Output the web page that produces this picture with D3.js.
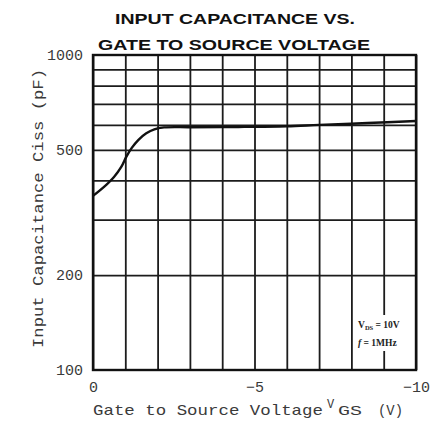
<!DOCTYPE html>
<html>
  <head>
    <script type="text/javascript" src="https://cdnjs.cloudflare.com/ajax/libs/d3/7.8.5/d3.min.js"></script>
    <style type="text/css">

html, body {
  margin: 0;
  padding: 0;
  background: #fff;
}

.grid line {
  stroke: #1c1c1c;
  stroke-width: 1.8px;
}

.grid path {
  display: none;
}

.ticklabels text {
  font-family: "Liberation Mono", monospace;
  font-size: 15px;
  fill: #3a3a3a;
}

    </style>
  </head>
  <body>
    <svg id="chart" width="445" height="439"></svg>
    <script type="text/javascript">

// values
var vgs  = [0, -0.35, -0.65, -0.88, -1.03, -1.2, -1.4, -1.65, -1.9, -2.2, -3, -4.5, -6, -7, -8.5, -10];
var ciss = [357, 382, 410, 442, 475, 507, 537, 564, 581, 589, 590, 591, 594, 600, 608, 617];

var xTicks = [0, -5, -10];
var xTickLabels = ["0", "\u22125", "\u221210"];
var yTicks = [100, 200, 500, 1000];
var yTickLabels = ["100", "200", "500", "1000"];
var xGrid = d3.range(0, -11, -1);
var yGrid = [200, 300, 400, 500, 600, 700, 800, 900];

var svg = d3.select("#chart");

// plot box (window.top is reserved, so no "top" here)
var pLeft = 93, pRight = 416, pTop = 55, pBottom = 370;

var x = d3.scaleLinear().domain([0, -10]).range([pLeft, pRight]);
var y = d3.scaleLog().domain([100, 1000]).range([pBottom, pTop]);

// grid lines
svg.append("g")
    .attr("class", "grid")
    .attr("transform", "translate(0," + pBottom + ")")
    .call(d3.axisBottom(x).tickValues(xGrid).tickSize(-(pBottom - pTop)).tickFormat(""));

svg.append("g")
    .attr("class", "grid")
    .attr("transform", "translate(" + pLeft + ",0)")
    .call(d3.axisLeft(y).tickValues(yGrid).tickSize(-(pRight - pLeft)).tickFormat(""));

// frame
svg.append("rect")
    .attr("x", pLeft)
    .attr("y", pTop)
    .attr("width", pRight - pLeft)
    .attr("height", pBottom - pTop)
    .attr("fill", "none")
    .attr("stroke", "#111")
    .attr("stroke-width", 2.4);

// tick labels
var xl = svg.append("g")
    .attr("class", "ticklabels")
    .attr("transform", "translate(0," + (pBottom + 8) + ")")
    .call(d3.axisBottom(x).tickValues(xTicks).tickSize(0)
      .tickFormat(function(d, i) { return xTickLabels[i]; }));
xl.select(".domain").remove();

var yl = svg.append("g")
    .attr("class", "ticklabels")
    .attr("transform", "translate(" + (pLeft - 10) + ",0)")
    .call(d3.axisLeft(y).tickValues(yTicks).tickSize(0)
      .tickFormat(function(d, i) { return yTickLabels[i]; }));
yl.select(".domain").remove();
yl.selectAll("text").attr("x", 0);

// curve
var pts = vgs.map(function(v, i) { return [v, ciss[i]]; });
var line = d3.line()
    .x(function(d) { return x(d[0]); })
    .y(function(d) { return y(d[1]); })
    .curve(d3.curveCatmullRom.alpha(0.5));

svg.append("path")
    .datum(pts)
    .attr("d", line)
    .attr("fill", "none")
    .attr("stroke", "#111")
    .attr("stroke-width", 2.4);

// condition note
svg.append("rect")
    .attr("x", 355).attr("y", 315)
    .attr("width", 58).attr("height", 36)
    .attr("fill", "#fff");

var note = svg.append("text")
    .attr("font-family", "Liberation Serif, serif")
    .attr("font-weight", "bold")
    .attr("font-size", 9.5)
    .attr("fill", "#222");
note.append("tspan").attr("x", 358).attr("y", 328).text("V");
note.append("tspan").attr("font-size", 6.5).attr("dy", 2).text("DS");
note.append("tspan").attr("dy", -2).text(" = 10V");
note.append("tspan").attr("x", 358).attr("y", 346).attr("font-style", "italic").text("f");
note.append("tspan").text(" = 1MHz");

// title
svg.append("text")
    .attr("x", 115).attr("y", 24)
    .attr("textLength", 240).attr("lengthAdjust", "spacingAndGlyphs")
    .attr("font-family", "Liberation Sans, Arial, sans-serif")
    .attr("font-weight", "bold")
    .attr("font-size", 15)
    .attr("fill", "#111")
    .text("INPUT CAPACITANCE VS.");

svg.append("text")
    .attr("x", 98).attr("y", 50)
    .attr("textLength", 272).attr("lengthAdjust", "spacingAndGlyphs")
    .attr("font-family", "Liberation Sans, Arial, sans-serif")
    .attr("font-weight", "bold")
    .attr("font-size", 15)
    .attr("fill", "#111")
    .text("GATE TO SOURCE VOLTAGE");

// axis titles
var xt = svg.append("text")
    .attr("font-family", "Liberation Mono, monospace")
    .attr("font-size", 15)
    .attr("fill", "#3a3a3a");
xt.append("tspan").attr("x", 93).attr("y", 415)
    .attr("textLength", 230).attr("lengthAdjust", "spacingAndGlyphs")
    .text("Gate to Source Voltage");
xt.append("tspan").attr("x", 327).attr("y", 408).attr("font-size", 12).text("V");
xt.append("tspan").attr("x", 338).attr("y", 415).attr("font-size", 13)
    .attr("textLength", 24).attr("lengthAdjust", "spacingAndGlyphs").text("GS");
xt.append("tspan").attr("x", 378).attr("y", 415)
    .attr("textLength", 25).attr("lengthAdjust", "spacingAndGlyphs").text("(V)");

svg.append("text")
    .attr("transform", "translate(43,348) rotate(-90)")
    .attr("textLength", 279).attr("lengthAdjust", "spacingAndGlyphs")
    .attr("font-family", "Liberation Mono, monospace")
    .attr("font-size", 15)
    .attr("fill", "#3a3a3a")
    .text("Input Capacitance Ciss (pF)");

    </script>
  </body>
</html>
